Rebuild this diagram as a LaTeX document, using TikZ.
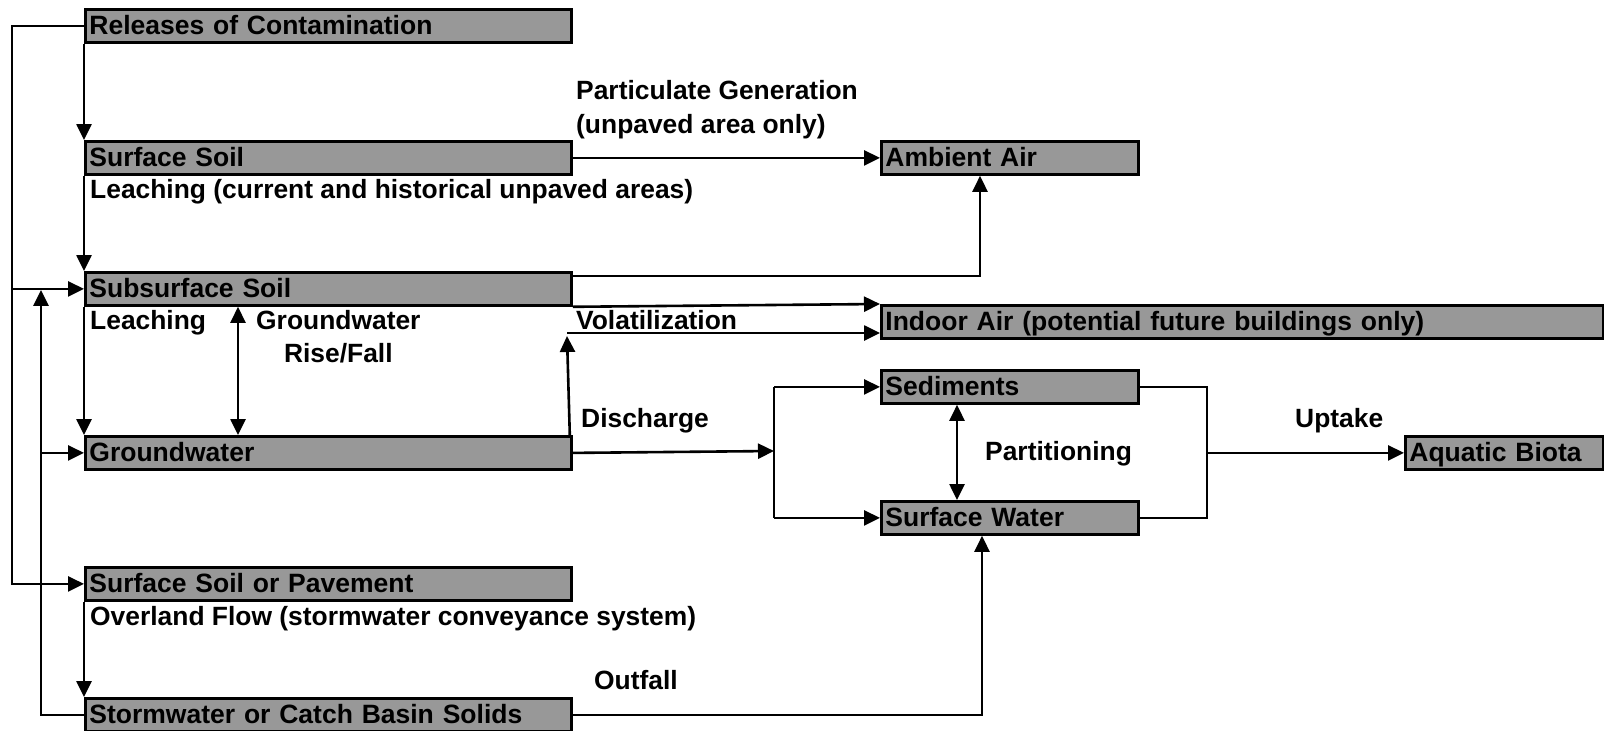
\documentclass[tikz,border=0pt]{standalone}
\usepackage{fontspec}
\setmainfont{Liberation Sans}
\usetikzlibrary{arrows.meta}
\definecolor{boxgray}{RGB}{152,152,152}
\begin{document}
\begin{tikzpicture}[x=1pt,y=-1pt,
  box/.style={draw=black, line width=2.8pt, fill=boxgray, anchor=north west,
    minimum height=33pt, inner xsep=4pt, inner ysep=0pt, text height=22pt, text depth=4pt,
    font=\fontsize{26.5}{30}\selectfont\bfseries, align=left},
  lbl/.style={anchor=base west, inner sep=0pt, font=\fontsize{26.4}{33}\selectfont\bfseries},
  conn/.style={line width=2.6pt, -{Triangle[length=16pt,width=15pt]}},
  both/.style={line width=2.6pt, {Triangle[length=16pt,width=15pt]}-{Triangle[length=16pt,width=15pt]}},
  ln/.style={line width=2.6pt}]
\useasboundingbox (0,0) rectangle (1604,731);

% boxes
\node[box, text width=478pt] (rel) at (84,8) {Releases of Contamination};
\node[box, text width=478pt] (ss) at (84,140) {Surface Soil};
\node[box, text width=478pt] (sub) at (84,271) {Subsurface Soil};
\node[box, text width=478pt] (gw) at (84,435) {Groundwater};
\node[box, text width=478pt] (sop) at (84,566) {Surface Soil or Pavement};
\node[box, text width=478pt] (sw) at (84,697) {Stormwater or Catch Basin Solids};
\node[box, text width=249pt] (aa) at (880,140) {Ambient Air};
\node[box, text width=714pt] (ia) at (880,304) {Indoor Air (potential future buildings only)};
\node[box, text width=249pt] (sed) at (880,369) {Sediments};
\node[box, text width=249pt] (sfw) at (880,500) {Surface Water};
\node[box, text width=190pt] (ab) at (1404,435) {Aquatic Biota};

% labels
\node[lbl] (pg1) at (576,99) {Particulate Generation};
\node[lbl] (pg2) at (576,133) {(unpaved area only)};
\node[lbl] (lc) at (90,198) {Leaching (current and historical unpaved areas)};
\node[lbl] (le) at (90,329) {Leaching};
\node[lbl] (gr1) at (256,329) {Groundwater};
\node[lbl, anchor=base] (gr2) at ([yshift=-33pt]gr1.base) {Rise/Fall};
\node[lbl] (vo) at (576,329) {Volatilization};
\node[lbl] (di) at (581,427) {Discharge};
\node[lbl] (up) at (1295,427) {Uptake};
\node[lbl] (pa) at (985,460) {Partitioning};
\node[lbl] (ov) at (90,625) {Overland Flow (stormwater conveyance system)};
\node[lbl] (of) at (594,689) {Outfall};

% coordinates
\coordinate (busA) at (12,0);
\coordinate (busB) at (41,0);
\coordinate (volc) at (567,333);
\coordinate (dj) at (774,451);
\coordinate (rj) at (1207,0);

% left buses
\draw[conn] (rel.west) -| (busA |- sop.west) -- (sop.west);
\draw[conn] (busA |- sub.west) -- (sub.west);
\draw[conn] (sw.west) -| ([yshift=-1pt]busB |- sub.west);
\draw[conn] (busB |- gw.west) -- (gw.west);

% vertical chain
\draw[conn] (rel.south west) -- (ss.north west);
\draw[conn] (ss.south west) -- (sub.north west);
\draw[conn] (sub.south west) -- (gw.north west);
\draw[conn] (sop.south west) -- (sw.north west);
\draw[both] ([xshift=154pt]sub.south west) -- ([xshift=154pt]gw.north west);

% air
\draw[conn] (ss.east) -- (aa.west);
\draw[conn] ([yshift=13pt]sub.east) -| ([xshift=100pt]aa.south west);
\draw[conn] (sub.south east) -- (ia.north west);
\draw[conn] ([xshift=-3pt]gw.north east) -- ([yshift=-3pt]volc);
\draw[conn] (volc) -- (volc -| ia.west);

% water
\draw[conn] (gw.east) -- (dj);
\draw[ln] (dj |- sed.west) -- (dj |- sfw.west);
\draw[conn] (dj |- sed.west) -- (sed.west);
\draw[conn] (dj |- sfw.west) -- (sfw.west);
\draw[both] ([xshift=77pt]sed.south west) -- ([xshift=77pt]sfw.north west);
\draw[ln] (sed.east) -| (rj |- ab.west) |- (sfw.east);
\draw[conn] (rj |- ab.west) -- (ab.west);
\draw[conn] (sw.east) -| ([xshift=102pt]sfw.south west);
\end{tikzpicture}
\end{document}
